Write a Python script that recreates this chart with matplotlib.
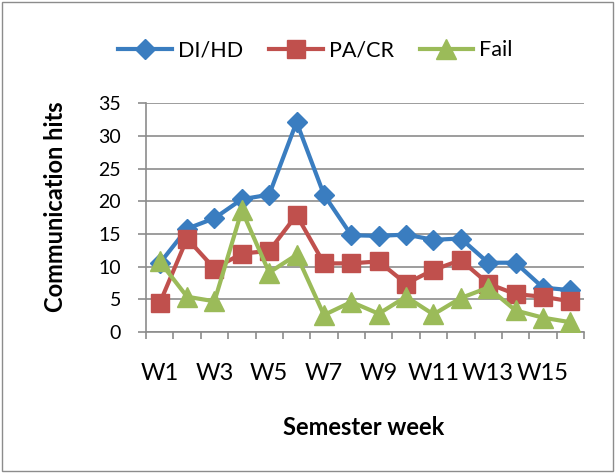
import matplotlib
matplotlib.use("Agg")
import matplotlib.pyplot as plt
from matplotlib.patches import Rectangle

weeks = [f"W{i}" for i in range(1, 17)]
di_hd = [10.5, 15.8, 17.4, 20.3, 21.0, 32.1, 21.0, 14.8, 14.7, 14.9, 14.1, 14.3, 10.6, 10.6, 6.8, 6.4]
pa_cr = [4.4, 14.3, 9.7, 12.0, 12.4, 17.9, 10.5, 10.5, 10.8, 7.4, 9.5, 11.0, 7.4, 5.8, 5.4, 4.7]
fail = [10.8, 5.4, 4.7, 18.6, 9.1, 11.8, 2.6, 4.6, 2.8, 5.4, 2.7, 5.2, 6.8, 3.3, 2.2, 1.5]

plt.rcParams['font.family'] = ['Lato', 'DejaVu Sans']

fig = plt.figure(figsize=(6.15, 4.73), dpi=100)
fig.patches.append(Rectangle((0.004, 0.005), 0.992, 0.99, transform=fig.transFigure,
                             fill=False, edgecolor='#8c8c8c', linewidth=1.0))
ax = fig.add_axes([0.2374, 0.298, 0.7122, 0.484])

x = list(range(len(weeks)))
ax.plot(x, di_hd, color='#3A7DC0', lw=3.0, marker='D', ms=10.5, label='DI/HD', zorder=3)
ax.plot(x, pa_cr, color='#C0504D', lw=3.0, marker='s', ms=12.5, label='PA/CR', zorder=4)
ax.plot(x, fail, color='#9BBB59', lw=3.0, marker='^', ms=15, label='Fail', zorder=5)

ax.set_xlim(-0.5, 15.5)
ax.set_ylim(0, 35)
ax.set_yticks(range(0, 36, 5))
ax.yaxis.grid(True, color='#8c8c8c', lw=1.2)
ax.set_axisbelow(True)

ax.set_xticks([i - 0.5 for i in range(17)])
ax.set_xticklabels([])
ax.set_xticks(x, minor=True)
ax.set_xticklabels([w if i % 2 == 0 else '' for i, w in enumerate(weeks)], minor=True)
ax.tick_params(axis='x', which='major', length=5, color='#8c8c8c', width=1.2)
ax.tick_params(axis='x', which='minor', length=0, labelsize=17, pad=22)
ax.tick_params(axis='y', length=6, color='#8c8c8c', width=1.2, labelsize=14, pad=12)

for s in ['top', 'right']:
    ax.spines[s].set_visible(False)
for s in ['left', 'bottom']:
    ax.spines[s].set_color('#8c8c8c')
    ax.spines[s].set_linewidth(1.2)

ax.set_ylabel('Communication hits', fontsize=17, fontweight='bold')
ax.yaxis.set_label_coords(-0.180, 0.546)
ax.set_xlabel('Semester week', fontsize=17, fontweight='bold', va='top')
ax.xaxis.set_label_coords(0.4966, -0.367)

fig.legend(loc='center', bbox_to_anchor=(0.513, 0.894), ncol=3, frameon=False,
           fontsize=15.5, handlelength=2.5, columnspacing=1.2, handletextpad=0.27)

fig.savefig('out.png', dpi=100)
